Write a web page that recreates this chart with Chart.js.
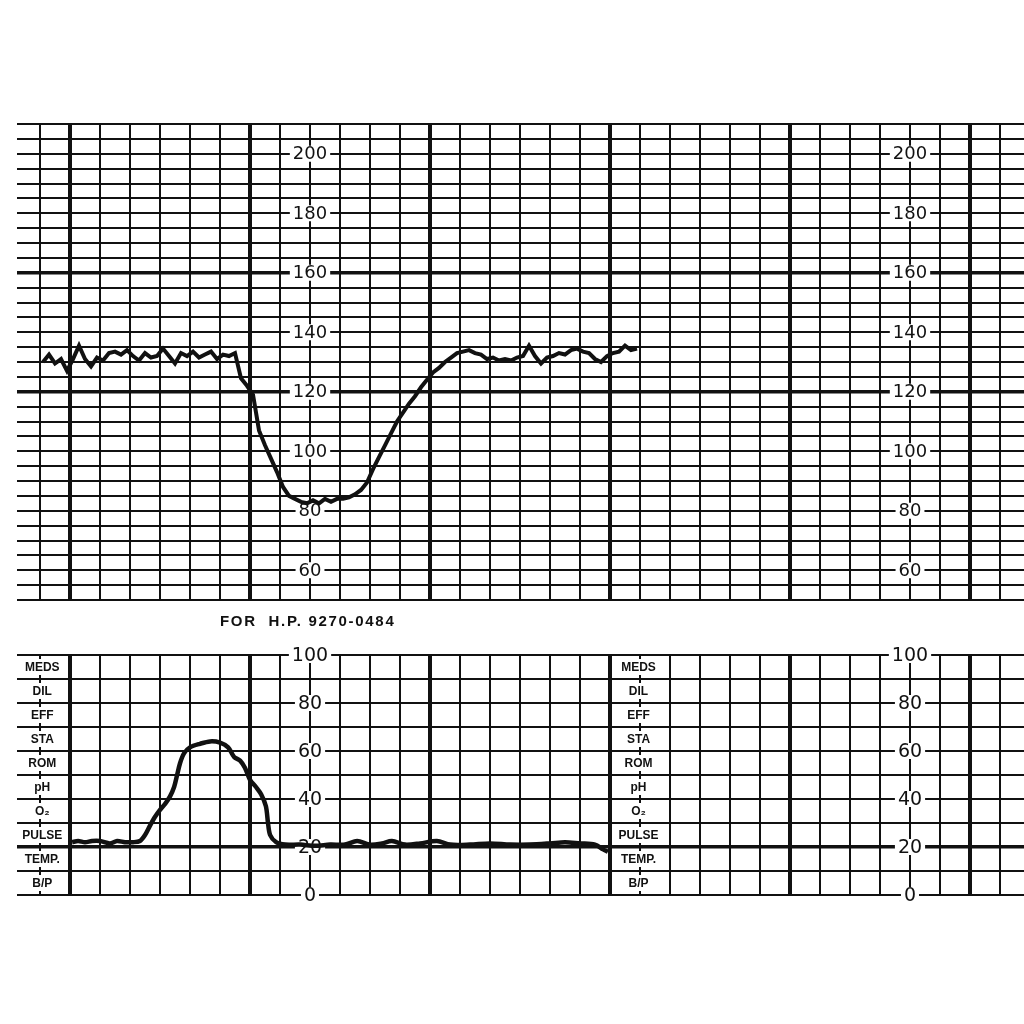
<!DOCTYPE html>
<html>
<head>
<meta charset="utf-8">
<script src="https://cdn.jsdelivr.net/npm/chart.js@4.4.0/dist/chart.umd.min.js"></script>
<style>
  html, body { margin: 0; padding: 0; background: #ffffff; }
  body { width: 1024px; height: 1024px; position: relative; overflow: hidden; }
  canvas { position: absolute; left: 0; }
  #fhr { top: 0; }
  #uc { top: 630px; }
  #note { position: absolute; left: 220px; top: 612px; font: bold 15px "Liberation Sans", Arial, sans-serif;
          letter-spacing: 1.7px; color: #111; white-space: nowrap; }
</style>
</head>
<body>
<canvas id="fhr" width="1024" height="620"></canvas>
<div id="note">FOR&nbsp; H.P. 9270-0484</div>
<canvas id="uc" width="1024" height="300"></canvas>
<script>
// ---------- data (time in seconds, paper speed 3 cm/min) ----------
const fhrSeconds = [-9,-7,-5,-3,-1,1,3,5,7,9,11,13,15,17,19,21,23,25,27,29,31,33,35,37,39,41,43,45,47,49,51,53,55,
  57,59,61,63,65,67,69,71,73,75,77,79,81,83,85,87,89,91,93,95,97,99,101,103,105,107,109,111,113,115,117,119,121,123,125,
  127,129,131,133,135,137,139,141,143,145,147,149,151,153,155,157,159,161,163,165,167,169,171,173,175,177,179,181,183,185,187,189];
const fhrBpm = [130,132.5,129.5,131,127,131,135.5,131,128.5,131.5,130.5,133,133.5,132.5,134,132,130.5,133,131.5,132,134.5,132,129.5,133,132,133.5,131.5,132.5,133.5,131,132.5,132,133,
  124.5,122,119,107,102,97.5,93,88,85,84,83,82.5,83.5,82.5,84,83,84,84,84.5,85.5,87,89.5,94,98,102,106,110,113,116,118.5,121.5,124,126.5,128,130,
  131.5,133,133.5,134,133,132.5,131,131.5,130.5,131,130.5,131.5,132,135.5,132,129.5,131.5,132,133,132.5,134,134.5,133.5,133,131,130,132,133,133.5,135.5,134,134.5];

const ucSeconds = [0.7,2.7,5,7.3,10,13.3,15.7,18.3,21,23.3,25,26.7,28.3,30,31.7,33.3,34.7,35.7,36.7,38,40,43.3,46.7,50,52.7,54.7,56.7,58.3,60,62,63.7,65.3,66,66.7,68.7,
  71.7,76.7,81.7,86.7,91.7,95.7,100,104,107.3,111.7,116.7,122.3,126.7,133.3,140,146.7,153.3,160,165,170,175,177.7,179.3];
const ucValue = [22,22.5,22,22.5,22.5,21.5,22.5,22,22,22.5,25,29,32.5,35.5,38,41,45,50,55,59,61.5,63,64,63.5,61.5,57.5,56,53,48,45,42,37,30,25,22,
  21,21,20.5,21,21,22.5,21,21.5,22.5,21,21.5,22.5,21,21,21.5,21,21,21.5,22,21.5,21,19,18];

const fhrTickLabels = [60, 80, 100, 120, 140, 160, 180, 200];
const ucTickLabels = [0, 20, 40, 60, 80, 100];
const annotationRows = ["MEDS", "DIL", "EFF", "STA", "ROM", "pH", "O\u2082", "PULSE", "TEMP.", "B/P"];

const fhrGridLines = []; for (let v = 50; v <= 210; v += 5) fhrGridLines.push(v);
const ucGridLines = [];  for (let v = 0; v <= 100; v += 10) ucGridLines.push(v);
const timeGridLines = []; for (let t = -10; t <= 310; t += 10) timeGridLines.push(t);
const fhrHeavy = [120, 160];
const ucHeavy = [20];
const labelColumnsSec = [80, 280];
const rowColumnsSec = [[-18.5, 0], [180, 199]];

// ---------- helpers ----------
const INK = '#111111';
function timeScale() {
  return {
    type: 'linear', min: -17.67, max: 318,
    afterBuildTicks: s => { s.ticks = timeGridLines.map(v => ({ value: v })); },
    ticks: { display: false },
    border: { display: false },
    grid: { drawTicks: false, color: INK,
            lineWidth: c => (c.tick && c.tick.value % 60 === 0) ? 4 : 2 }
  };
}
function valueScale(min, max, lines, heavy) {
  return {
    type: 'linear', min, max,
    afterBuildTicks: s => { s.ticks = lines.map(v => ({ value: v })); },
    ticks: { display: false },
    border: { display: false },
    grid: { drawTicks: false, color: INK,
            lineWidth: c => (c.tick && heavy.includes(c.tick.value)) ? 3.5 : 2 }
  };
}

const paperLabels = {
  id: 'paperLabels',
  beforeDatasetsDraw(chart, args, o) {
    const { ctx, scales: { x, y } } = chart;
    ctx.save();
    ctx.textAlign = 'center';
    ctx.textBaseline = 'middle';
    ctx.font = o.font;
    o.columns.forEach(col => {
      const px = x.getPixelForValue(col);
      o.values.forEach(v => {
        const py = y.getPixelForValue(v);
        const t = String(v);
        const w = ctx.measureText(t).width;
        ctx.fillStyle = '#ffffff';
        ctx.fillRect(px - w / 2 - 3, py - o.boxH / 2, w + 6, o.boxH);
        ctx.fillStyle = INK;
        ctx.fillText(t, px, py + 1);
      });
    });
    if (o.rows) {
      ctx.font = o.rowFont;
      o.rowColumns.forEach(([a, b]) => {
        const px = (x.getPixelForValue(a) + x.getPixelForValue(b)) / 2;
        o.rows.forEach((name, i) => {
          const py = y.getPixelForValue(95 - i * 10);
          const w = ctx.measureText(name).width;
          ctx.fillStyle = '#ffffff';
          ctx.fillRect(px - w / 2 - 2, py - 8, w + 4, 16);
          ctx.fillStyle = INK;
          ctx.fillText(name, px, py + 1);
        });
      });
    }
    ctx.restore();
  }
};

// ---------- FHR chart ----------
new Chart(document.getElementById('fhr'), {
  type: 'line',
  data: { datasets: [{
    data: fhrSeconds.map((t, i) => ({ x: t, y: fhrBpm[i] })),
    borderColor: INK, borderWidth: 4, pointRadius: 0, tension: 0, fill: false
  }]},
  options: {
    responsive: false, animation: false, events: [],
    layout: { padding: { left: 17, right: 0, top: 124, bottom: 20 } },
    plugins: { legend: { display: false }, tooltip: { enabled: false },
      paperLabels: { font: '18px "DejaVu Sans", sans-serif', columns: labelColumnsSec, values: fhrTickLabels, boxH: 16 } },
    scales: { x: timeScale(), y: valueScale(50, 210, fhrGridLines, fhrHeavy) }
  },
  plugins: [paperLabels]
});

// ---------- Uterine activity chart ----------
new Chart(document.getElementById('uc'), {
  type: 'line',
  data: { datasets: [{
    data: ucSeconds.map((t, i) => ({ x: t, y: ucValue[i] })),
    borderColor: INK, borderWidth: 4.5, pointRadius: 0, tension: 0.3, fill: false
  }]},
  options: {
    responsive: false, animation: false, events: [],
    layout: { padding: { left: 17, right: 0, top: 25, bottom: 35 } },
    plugins: { legend: { display: false }, tooltip: { enabled: false },
      paperLabels: { font: '19px "DejaVu Sans", sans-serif', columns: labelColumnsSec, values: ucTickLabels, boxH: 16,
                     rows: annotationRows, rowColumns: rowColumnsSec, rowFont: 'bold 12px "Liberation Sans", Arial, sans-serif' } },
    scales: { x: timeScale(), y: valueScale(0, 100, ucGridLines, ucHeavy) }
  },
  plugins: [paperLabels]
});
</script>
</body>
</html>
